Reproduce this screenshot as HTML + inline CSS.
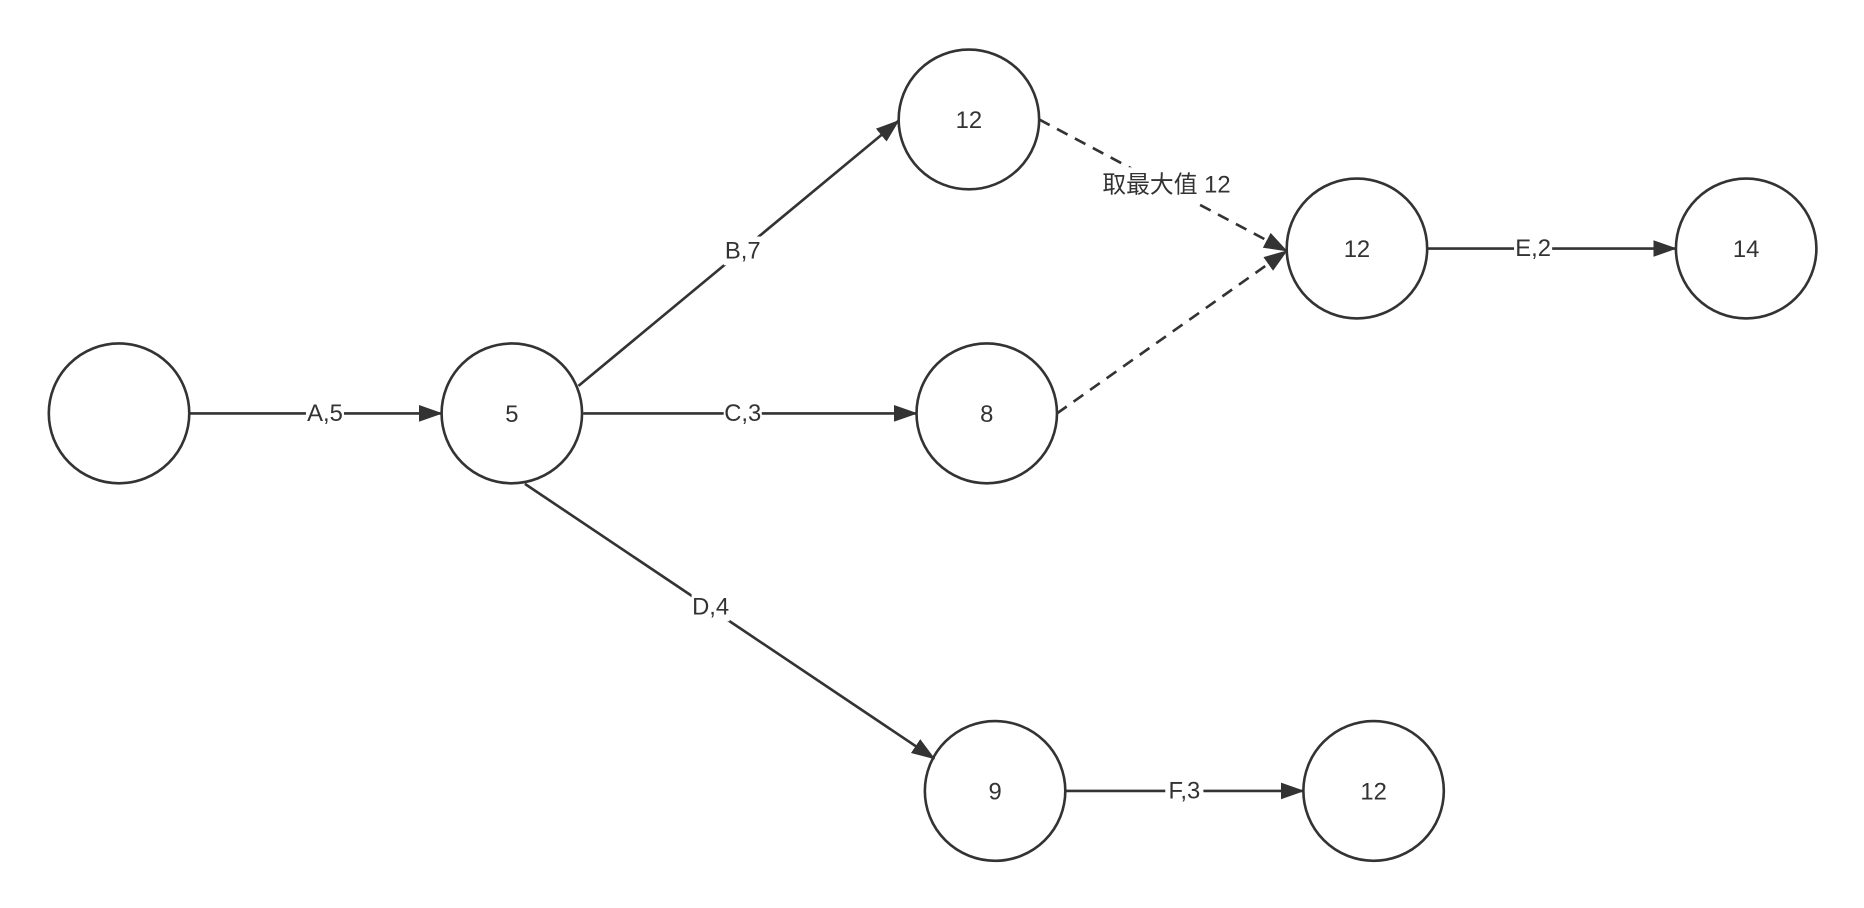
<!DOCTYPE html>
<html><head><meta charset="utf-8"><style>html,body{margin:0;padding:0;background:#fff}svg{display:block}</style></head>
<body>
<svg width="1864" height="908" viewBox="0 0 1566 760" preserveAspectRatio="none" xmlns="http://www.w3.org/2000/svg" font-family="Liberation Sans, Noto Sans CJK SC, sans-serif" font-size="20" fill="#333">
<defs>
<marker id="a" markerWidth="20" markerHeight="14" refX="19" refY="7" orient="auto" markerUnits="userSpaceOnUse"><path d="M0,0 L20,7 L0,14 Z" fill="#333"/></marker>
</defs>
<g stroke="#333" stroke-width="2.2" fill="none">
<ellipse cx="100" cy="346" rx="59" ry="58.5"/>
<ellipse cx="430" cy="346" rx="59" ry="58.5"/>
<ellipse cx="814" cy="100" rx="59" ry="58.5"/>
<ellipse cx="829" cy="346" rx="59" ry="58.5"/>
<ellipse cx="1140" cy="208" rx="59" ry="58.5"/>
<ellipse cx="1467" cy="208" rx="59" ry="58.5"/>
<ellipse cx="836" cy="662" rx="59" ry="58.5"/>
<ellipse cx="1154" cy="662" rx="59" ry="58.5"/>
<line x1="160" y1="346" x2="371" y2="346" marker-end="url(#a)"/>
<line x1="486" y1="323" x2="755" y2="101" marker-end="url(#a)"/>
<line x1="490" y1="346" x2="770" y2="346" marker-end="url(#a)"/>
<line x1="441" y1="405" x2="785" y2="635" marker-end="url(#a)"/>
<line x1="895" y1="662" x2="1095" y2="662" marker-end="url(#a)"/>
<line x1="1199" y1="208" x2="1408" y2="208" marker-end="url(#a)"/>
<line x1="873" y1="100" x2="1081" y2="210" stroke-dasharray="10,7" marker-end="url(#a)"/>
<line x1="888" y1="346" x2="1081" y2="210" stroke-dasharray="10,7" marker-end="url(#a)"/>
</g>
<g fill="#fff">
<rect x="257" y="334" width="32" height="24"/>
<rect x="608" y="198" width="32" height="24"/>
<rect x="608" y="334" width="32" height="24"/>
<rect x="581" y="496" width="32" height="24"/>
<rect x="979" y="650" width="32" height="24"/>
<rect x="1272" y="196" width="32" height="24"/>
<rect x="920" y="140" width="120" height="30"/>
</g>
<g text-anchor="middle" dominant-baseline="central">
<text x="273" y="346">A,5</text>
<text x="624" y="210">B,7</text>
<text x="624" y="346">C,3</text>
<text x="597" y="508">D,4</text>
<text x="995" y="662">F,3</text>
<text x="1288" y="208">E,2</text>
<text x="980" y="155">取最大值 12</text>
<text x="430" y="347">5</text>
<text x="814" y="101">12</text>
<text x="829" y="347">8</text>
<text x="1140" y="209">12</text>
<text x="1467" y="209">14</text>
<text x="836" y="663">9</text>
<text x="1154" y="663">12</text>
</g>
</svg>
</body></html>
